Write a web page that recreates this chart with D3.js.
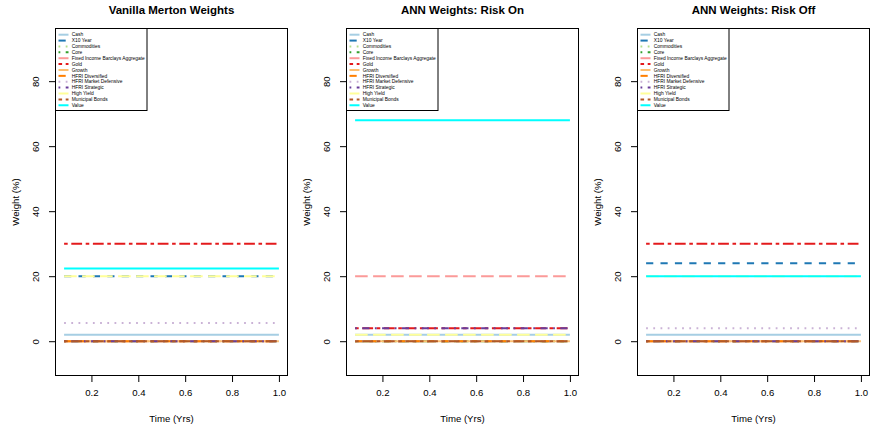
<!DOCTYPE html>
<html><head><meta charset="utf-8">
<script src="https://cdn.jsdelivr.net/npm/d3@7"></script>
<style>body{margin:0;background:#fff}svg{display:block}text{font-family:"Liberation Sans",Arial,sans-serif}</style>
</head><body><svg id="c" width="870" height="429"></svg>
<script>
const seriesNames = ["Cash","X10 Year","Commodities","Core","Fixed Income Barclays Aggregate","Gold","Growth","HFRI Diversified","HFRI Market Defensive","HFRI Strategic","High Yield","Municipal Bonds","Value"];
const seriesColors = ["#A6CEE3","#1F78B4","#B2DF8A","#33A02C","#FB9A99","#E31A1C","#FDBF6F","#FF7F00","#CAB2D6","#6A3D9A","#FFFF99","#B15928","#00FFFF"];
const seriesLty = ["solid","dashed","dotted","dotdash","longdash","twodash","solid","dashed","dotted","dotdash","longdash","twodash","solid"];
const panelTitles = ["Vanilla Merton Weights","ANN Weights: Risk On","ANN Weights: Risk Off"];
const times = [1/12,2/12,3/12,4/12,5/12,6/12,7/12,8/12,9/12,10/12,11/12,12/12];
// weights (%) per series, constant through time
const mertonWeights = [2,20,0,0,0,30,0,0,5.6,0,20,0,22.4];
const riskOnWeights = [2,0,0,0,20,4,0,0,0,4,2,0,68];
const riskOffWeights = [2,24,0,0,0,30,0,0,4,0,20,0,20];
const xTicks = [0.2,0.4,0.6,0.8,1.0];
const yTicks = [0,20,40,60,80];

const panelWeights = [mertonWeights, riskOnWeights, riskOffWeights];
const dashes = {solid:null,dashed:"7.2,7.2",dotted:"1.8,5.4",dotdash:"1.8,5.4,7.2,5.4",longdash:"12.6,5.4",twodash:"3.6,3.6,10.8,3.6"};

const svg = d3.select("#c");
const pTop = 28.5, pBottom = 375.5, pw = 232;
const yScale = d3.scaleLinear().domain([-10.55, 96.2]).range([pBottom, pTop]);

panelTitles.forEach((title, p) => {
  const left = 55.5 + p*291;
  const g = svg.append("g");
  const x = d3.scaleLinear().domain([1/12 - 0.03667, 1.03667]).range([left, left+pw]);
  const y = yScale;
  const line = d3.line().x(d => x(d[0])).y(d => y(d[1]));
  const clip = "clip"+p;
  svg.append("clipPath").attr("id", clip).append("rect").attr("x", left).attr("y", pTop).attr("width", pw).attr("height", pBottom-pTop);
  const lg = g.append("g").attr("clip-path", `url(#${clip})`);
  seriesNames.forEach((name, i) => {
    const w = panelWeights[p][i];
    const pts = times.map(t => [t, w]);
    lg.append("path").attr("d", line(pts)).attr("fill","none")
      .attr("stroke", seriesColors[i]).attr("stroke-width", 2)
      .attr("stroke-dasharray", dashes[seriesLty[i]]);
  });
  const ax = g.append("g").attr("transform", `translate(0,${pBottom})`)
    .call(d3.axisBottom(x).tickValues(xTicks).tickSize(6.5).tickPadding(7).tickFormat(d3.format(".1f")));
  ax.select(".domain").remove();
  ax.selectAll("text").attr("font-size", 9.6).attr("fill","#000").attr("font-family",'"Liberation Sans",Arial,sans-serif');
  ax.selectAll("line").attr("stroke","#000");
  const ay = g.append("g").attr("transform", `translate(${left},0)`)
    .call(d3.axisLeft(y).tickValues(yTicks).tickSize(6.5).tickFormat(d3.format("d")));
  ay.select(".domain").remove();
  ay.selectAll("line").attr("stroke","#000");
  ay.selectAll(".tick text").attr("font-size", 9.6).attr("fill","#000")
    .attr("font-family",'"Liberation Sans",Arial,sans-serif')
    .attr("x", null).attr("dy", "0.32em").attr("text-anchor","middle")
    .attr("transform", "translate(-19.5,0) rotate(-90)");
  g.append("rect").attr("x", left).attr("y", pTop).attr("width", pw).attr("height", pBottom-pTop)
    .attr("fill","none").attr("stroke","#000").attr("stroke-width",1);
  g.append("text").attr("x", left+pw/2).attr("y", 14).attr("text-anchor","middle")
    .attr("font-size", 11.5).attr("font-weight","bold").text(title);
  g.append("text").attr("x", left+pw/2).attr("y", 422).attr("text-anchor","middle")
    .attr("font-size", 9.6).text("Time (Yrs)");
  g.append("text").attr("transform", `translate(${left-37},${(pTop+pBottom)/2}) rotate(-90)`)
    .attr("text-anchor","middle").attr("font-size", 9.6).text("Weight (%)");
  const leg = g.append("g");
  leg.append("rect").attr("x", left).attr("y", pTop).attr("width", 91.5).attr("height", 82)
    .attr("fill","#fff").attr("stroke","#000").attr("stroke-width",1);
  seriesNames.forEach((name, i) => {
    const yy = 34.7 + i*5.88;
    leg.append("line").attr("x1", left+3).attr("x2", left+13).attr("y1", yy).attr("y2", yy)
      .attr("stroke", seriesColors[i]).attr("stroke-width", 2)
      .attr("stroke-dasharray", dashes[seriesLty[i]]);
    leg.append("text").attr("x", left+16.2).attr("y", yy+1.7).attr("font-size", 4.9).attr("fill","#000").text(name);
  });
});
</script></body></html>
